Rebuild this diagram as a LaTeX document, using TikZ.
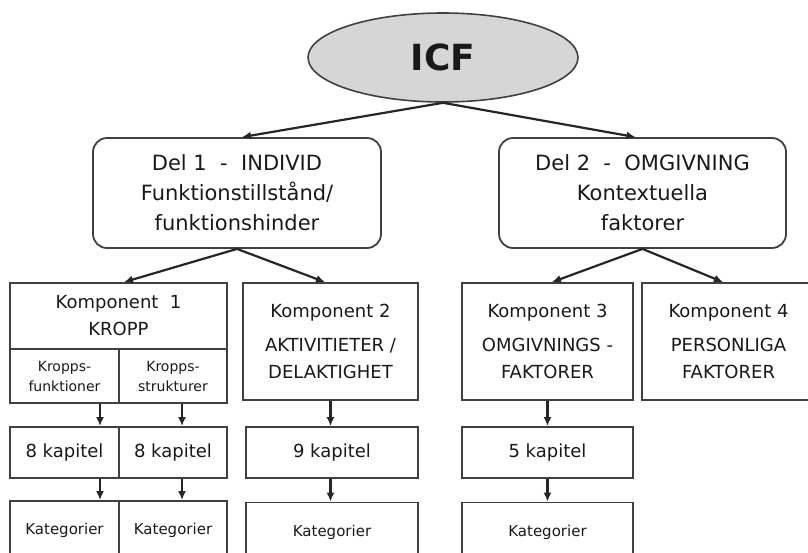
\documentclass[tikz,border=0pt]{standalone}
\usepackage{fontspec}
\setmainfont{DejaVu Sans}
\usetikzlibrary{shapes.geometric,arrows.meta}

\begin{document}
\begin{tikzpicture}[x=1pt,y=-1pt,
  every node/.style={align=center,inner sep=0pt,text=black!90},
  icf/.style    ={ellipse,draw=black!75,line width=1.6pt,fill=black!16,
                  minimum width=270pt,minimum height=89pt,
                  font=\fontsize{36}{40}\selectfont\bfseries},
  delblk/.style ={rectangle,draw=black!75,line width=1.8pt,rounded corners=14pt,
                  minimum height=110pt,font=\fontsize{21}{30}\selectfont},
  kompblk/.style={rectangle,draw=black!75,line width=1.8pt,minimum height=117pt,
                  font=\fontsize{18}{27}\selectfont},
  subblk/.style ={rectangle,draw=black!75,line width=1.8pt,minimum height=54pt,
                  font=\fontsize{14}{20}\selectfont},
  kapblk/.style ={rectangle,draw=black!75,line width=1.8pt,minimum height=51pt,
                  font=\fontsize{18}{24}\selectfont},
  katblk/.style ={rectangle,draw=black!75,line width=1.8pt,minimum height=59pt,
                  font=\fontsize{15}{20}\selectfont},
  arr/.style    ={-{Latex[length=9pt,width=8pt]},line width=2.2pt,black!85},
]
\useasboundingbox (0,0) rectangle (808,552);
\clip (0,0) rectangle (808,552);

\node[icf]    at (443,  57.5) (icf)  {ICF};

\node[delblk,minimum width=288pt] at (237,  193) (del1)
  {Del 1~~-~~INDIVID\\Funktionstillstånd/\\funktionshinder};
\node[delblk,minimum width=287pt] at (642.5,193) (del2)
  {Del 2~~-~~OMGIVNING\\Kontextuella\\faktorer};

\node[kompblk,minimum width=217pt,minimum height=66pt] at (118.5,316) (komp1)
  {Komponent~~1\\KROPP};
\node[subblk,minimum width=109pt] at (64.5, 376) (kfunk) {Kropps-\\funktioner};
\node[subblk,minimum width=108pt] at (173,  376) (kstru) {Kropps-\\strukturer};
\node[kompblk,minimum width=175pt] at (330.5,341.5) (komp2)
  {Komponent 2\\[7pt]AKTIVITIETER /\\DELAKTIGHET};
\node[kompblk,minimum width=171pt] at (547.5,341.5) (komp3)
  {Komponent 3\\[7pt]OMGIVNINGS -\\FAKTORER};
\node[kompblk,minimum width=173pt] at (728.5,341.5) (komp4)
  {Komponent 4\\[7pt]PERSONLIGA\\FAKTORER};

\node[kapblk,minimum width=109pt] at (64.5, 452.5) (kap1a) {8 kapitel};
\node[kapblk,minimum width=108pt] at (173,  452.5) (kap1b) {8 kapitel};
\node[kapblk,minimum width=172pt] at (332,  452.5) (kap2)  {9 kapitel};
\node[kapblk,minimum width=171pt] at (547.5,452.5) (kap3)  {5 kapitel};

\node[katblk,minimum width=109pt] at (64.5, 530.5) (kat1a) {Kategorier};
\node[katblk,minimum width=108pt] at (173,  530.5) (kat1b) {Kategorier};
\node[katblk,minimum width=172pt] at (332,  532)   (kat2)  {Kategorier};
\node[katblk,minimum width=171pt] at (547.5,532)   (kat3)  {Kategorier};

\draw[arr] (icf.south) -- ([xshift=5pt]del1.north);
\draw[arr] (icf.south) -- ([xshift=-7pt]del2.north);

\draw[arr] (del1.south) -- ([xshift=5.5pt]komp1.north);
\draw[arr] (del1.south) -- ([xshift=-5.5pt]komp2.north);
\draw[arr] (del2.south) -- ([xshift=4.5pt]komp3.north);
\draw[arr] (del2.south) -- ([xshift=-5.5pt]komp4.north);

\draw[arr] ([xshift=35.5pt]kfunk.south) -- ([xshift=35.5pt]kap1a.north);
\draw[arr] ([xshift=9pt]kstru.south)    -- ([xshift=9pt]kap1b.north);
\draw[arr] (komp2.south) -- (komp2.south |- kap2.north);
\draw[arr] (komp3.south) -- (kap3.north);

\draw[arr] ([xshift=35.5pt]kap1a.south) -- ([xshift=35.5pt]kat1a.north);
\draw[arr] ([xshift=9pt]kap1b.south)    -- ([xshift=9pt]kat1b.north);
\draw[arr] (komp2.south |- kap2.south)  -- (komp2.south |- kat2.north);
\draw[arr] (kap3.south) -- (kat3.north);
\end{tikzpicture}
\end{document}
